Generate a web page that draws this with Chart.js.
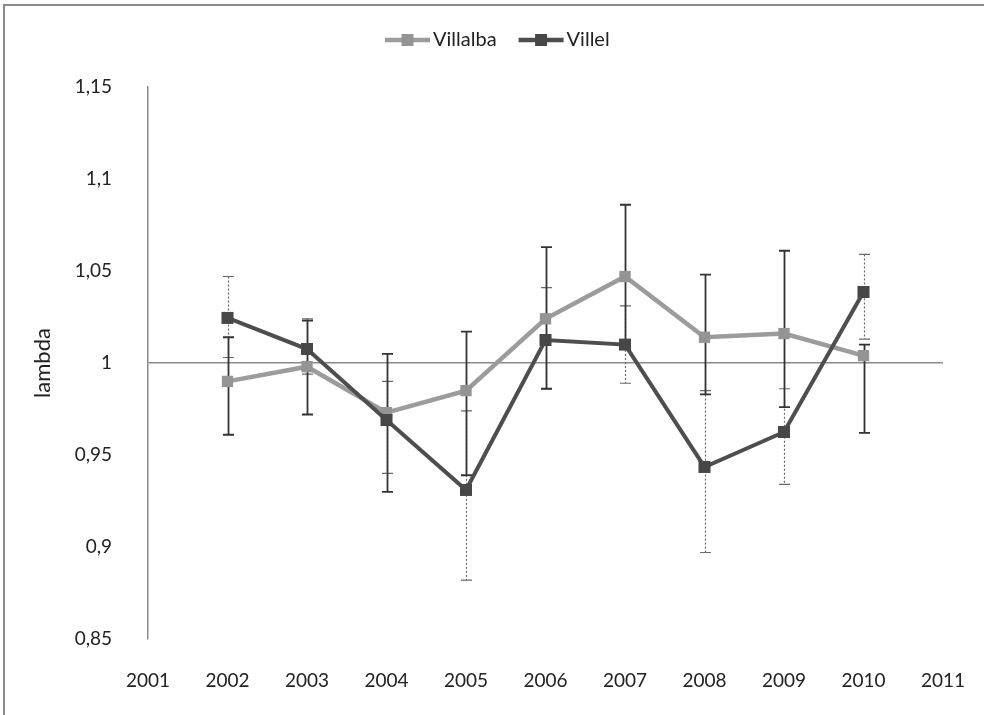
<!DOCTYPE html>
<html>
<head>
<meta charset="utf-8">
<script src="https://cdn.jsdelivr.net/npm/chart.js@4.4.0/dist/chart.umd.min.js"></script>
<style>
    html, body { margin: 0; padding: 0; background: #fff; }
    canvas { display: block; }
</style>
</head>
<body>
<canvas id="myChart" width="984" height="715"></canvas>
<script>
const years = [2002, 2003, 2004, 2005, 2006, 2007, 2008, 2009, 2010];

const villalba = [0.990, 0.998, 0.973, 0.985, 1.024, 1.047, 1.014, 1.016, 1.004];
const villalbaHigh = [1.014, 1.023, 1.005, 1.017, 1.063, 1.086, 1.048, 1.061, 1.010];
const villalbaLow = [0.961, 0.972, 0.930, 0.939, 0.986, 1.008, 0.983, 0.976, 0.962];

const villel = [1.0245, 1.0076, 0.969, 0.931, 1.0125, 1.010, 0.9435, 0.9625, 1.0386];
const villelHigh = [1.047, 1.024, 0.990, 0.974, 1.041, 1.031, 0.985, 0.986, 1.059];
const villelLow = [1.003, 0.994, 0.940, 0.882, 0.986, 0.989, 0.897, 0.934, 1.013];

const yTicks = { min: 0.85, max: 1.15, step: 0.05 };
const xRange = { min: 2001, max: 2011 };

Chart.defaults.font.family = 'Lato';

function toPoints(values) {
    return years.map((yr, i) => ({ x: yr, y: values[i] }));
}

function drawBars(ctx, xs, ys, high, low, style) {
    ctx.save();
    ctx.strokeStyle = style.color;
    ctx.lineWidth = style.width;
    years.forEach((yr, i) => {
        const px = Math.round(xs.getPixelForValue(yr)) + 0.5;
        const top = ys.getPixelForValue(high[i]);
        const bot = ys.getPixelForValue(low[i]);
        ctx.setLineDash(style.dash);
        ctx.beginPath();
        ctx.moveTo(px, top);
        ctx.lineTo(px, bot);
        ctx.stroke();
        ctx.setLineDash([]);
        ctx.beginPath();
        ctx.moveTo(px - 5.5, top);
        ctx.lineTo(px + 5.5, top);
        ctx.moveTo(px - 5.5, bot);
        ctx.lineTo(px + 5.5, bot);
        ctx.stroke();
    });
    ctx.restore();
}

// error bars go under the lines
const errorBars = {
    id: 'errorBars',
    beforeDatasetsDraw(chart) {
        const { ctx, scales } = chart;
        drawBars(ctx, scales.x, scales.y, villelHigh, villelLow, { color: '#6a6a6a', width: 1.2, dash: [2, 2] });
        drawBars(ctx, scales.x, scales.y, villalbaHigh, villalbaLow, { color: '#333', width: 1.8, dash: [] });
    }
};

// legend with a line + square, like the spreadsheet one
const lineLegend = {
    id: 'lineLegend',
    afterDraw(chart) {
        const ctx = chart.ctx;
        ctx.save();
        ctx.font = '20px Lato';
        ctx.textBaseline = 'middle';
        let x = 385;
        const y = 40;
        chart.data.datasets.forEach(ds => {
            ctx.strokeStyle = ds.borderColor;
            ctx.lineWidth = 4.5;
            ctx.beginPath();
            ctx.moveTo(x, y);
            ctx.lineTo(x + 45, y);
            ctx.stroke();
            ctx.fillStyle = ds.pointBackgroundColor;
            ctx.fillRect(x + 16.5, y - 6, 12, 12);
            ctx.fillStyle = '#222';
            ctx.fillText(ds.label, x + 48, y);
            x += 48 + ctx.measureText(ds.label).width + 22;
        });
        ctx.restore();
    }
};

const frame = {
    id: 'frame',
    beforeDraw(chart) {
        const ctx = chart.ctx;
        ctx.save();
        ctx.fillStyle = '#fff';
        ctx.fillRect(0, 0, chart.width, chart.height);
        ctx.strokeStyle = '#8a8a8a';
        ctx.lineWidth = 2;
        ctx.beginPath();
        ctx.moveTo(4, chart.height);
        ctx.lineTo(4, 5);
        ctx.lineTo(chart.width, 5);
        ctx.stroke();
        ctx.restore();
    }
};

const ctx = document.getElementById('myChart').getContext('2d');
const chart = new Chart(ctx, {
    type: 'line',
    data: {
        datasets: [
            {
                label: 'Villalba',
                data: toPoints(villalba),
                borderColor: '#9c9c9c',
                backgroundColor: '#949494',
                pointBackgroundColor: '#949494',
                pointBorderColor: '#949494',
                borderWidth: 4.5,
                pointStyle: 'rect',
                pointRadius: 8,
                pointBorderWidth: 0,
                order: 2
            },
            {
                label: 'Villel',
                data: toPoints(villel),
                borderColor: '#4e4e4e',
                backgroundColor: '#474747',
                pointBackgroundColor: '#474747',
                pointBorderColor: '#474747',
                borderWidth: 4,
                pointStyle: 'rect',
                pointRadius: 8.5,
                pointBorderWidth: 0,
                order: 1
            }
        ]
    },
    options: {
        responsive: false,
        animation: false,
        layout: {
            padding: { left: 0, top: 87, right: 41, bottom: 0 }
        },
        scales: {
            x: {
                type: 'linear',
                min: xRange.min,
                max: xRange.max,
                grid: { display: false, drawTicks: false },
                border: { display: false },
                ticks: {
                    stepSize: 1,
                    padding: 30,
                    color: '#222',
                    font: { size: 19 },
                    maxRotation: 0,
                    callback: v => String(v)
                },
                afterFit: scale => {
                    scale.height = 76;
                    scale.paddingLeft = 0;
                    scale.paddingRight = 0;
                }
            },
            y: {
                min: yTicks.min,
                max: yTicks.max,
                grid: {
                    drawTicks: false,
                    lineWidth: 1.5,
                    color: c => Math.abs(c.tick.value - 1) < 1e-6 ? '#8a8a8a' : 'rgba(0,0,0,0)'
                },
                border: { display: true, color: '#8a8a8a', width: 1.5 },
                ticks: {
                    stepSize: yTicks.step,
                    padding: 36,
                    color: '#222',
                    font: { size: 19 },
                    callback: v => String(Math.round(v * 100) / 100).replace('.', ',')
                },
                title: {
                    display: true,
                    text: 'lambda',
                    color: '#222',
                    font: { size: 22 },
                    padding: { top: 30, bottom: 0 }
                },
                afterFit: scale => { scale.width = 148; }
            }
        },
        plugins: {
            legend: { display: false },
            tooltip: { enabled: false }
        }
    },
    plugins: [frame, errorBars, lineLegend]
});
</script>
</body>
</html>
